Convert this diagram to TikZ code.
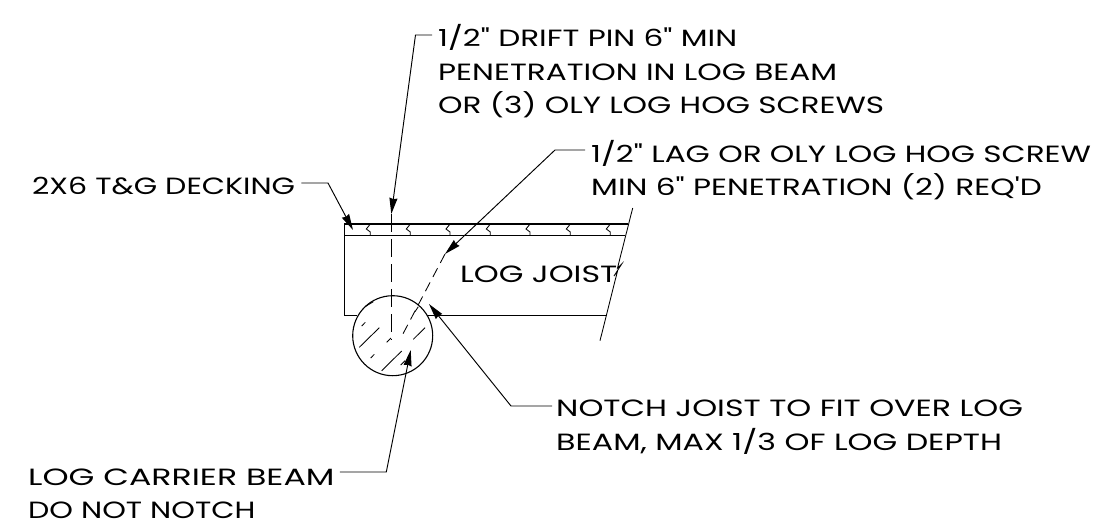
\documentclass[tikz,border=0pt]{standalone}
\usepackage{fontspec}
\setmainfont[FakeStretch=1.35]{Poppins}
\newfontfamily\notenarrow[FakeStretch=1.325]{Poppins}
\newfontfamily\noteshort[FakeStretch=1.28]{Poppins}
\newfontfamily\notewide[FakeStretch=1.414]{Poppins}
\usetikzlibrary{arrows.meta}
\tikzset{
    note/.style={anchor=north west,inner sep=0pt,align=left,font=#1\fontsize{23.5}{33.5}\selectfont},
    note/.default=\relax,
    leader/.style={-{Stealth[length=16pt,width=8pt,inset=1pt]},line width=0.95pt},
    part/.style={line width=1.1pt},
    hatch/.style={line width=0.85pt}
}
\begin{document}
\begin{tikzpicture}[x=1pt,y=-1pt]
            \useasboundingbox (0,0) rectangle (1109,531);
            \def\xdeck{344.7} \def\ytop{224} \def\ybot{235.3} \def\yjoist{315.7}
            % labels
            \node [note=\notenarrow] (drift) at (438,24.5) {1/2" DRIFT PIN 6" MIN\\PENETRATION IN LOG BEAM\\OR (3) OLY LOG HOG SCREWS};
            \node [note=\notenarrow] (lag) at (591,140) {1/2" LAG OR OLY LOG HOG SCREW\\MIN 6" PENETRATION (2) REQ'D};
            \node [note=\noteshort] (deck) at (32,177) {2X6 T\&G DECKING};
            \node [note] (joist) at (460,266) {LOG JOIST};
            \node [note] (notch) at (556,400) {NOTCH JOIST TO FIT OVER LOG\\BEAM, MAX 1/3 OF LOG DEPTH};
            \node [note=\notewide] (carrier) at (28,469) {LOG CARRIER BEAM};
            \node [note=\noteshort] (carriernote) at (28,502) {DO NOT NOTCH};
            % joist and decking
            \draw [part] (628,\ytop)--(\xdeck,\ytop)--(\xdeck,\yjoist)--(357,\yjoist);
            \draw [part] (\xdeck,\ybot)--(625,\ybot);
            \draw [part] (427,\yjoist)--(607,\yjoist);
            \foreach \x in {369.3,409.3,449,489.3,529,569.3,609.3}
                \draw [hatch] (\x+1,\ytop)--(\x-3,229)--(\x+1,232)--(\x+1,\ybot);
            \draw [hatch] (632.7,208)--(617.5,268)--(621.7,264)--(614,276)--(617.5,271)--(600,340.7);
            % carrier beam
            \node [circle,draw,line width=1.1pt,minimum size=80pt,inner sep=0pt] (beam) at (392.7,335.7) {};
            \draw [hatch] (359.3,347.3)--(379.3,327.7) (361.7,326)--(365.3,322.3) (365,306.7)--(373.3,301.7)
                (370.7,358)--(374.3,354.3) (381.7,370.7)--(401.7,351) (386.7,342.3)--(391,338)
                (413.3,339.3)--(425,327.7) (400.7,365)--(405,360.7) (415,311.7)--(418.3,306.7);
            % fasteners
            \draw [hatch,dash pattern=on 18pt off 7pt] (391.3,214)--(391.3,340);
            \draw [hatch,dash pattern=on 10pt off 6pt] (445,254)--(402,335.7);
            % leaders
            \coordinate (driftbend) at (415.5,35);
            \coordinate (driftend) at (391.3,214);
            \coordinate (lagbend) at (555,150);
            \coordinate (lagend) at (445,254);
            \coordinate (deckbend) at (328,183);
            \coordinate (deckend) at (353,230);
            \coordinate (notchbend) at (511,406);
            \coordinate (notchend) at (429,304);
            \coordinate (carrierbend) at (386.3,472);
            \coordinate (carrierend) at (410.7,350);
            \draw [leader] ([xshift=-6pt]driftbend -| drift.west)--(driftbend)--(driftend);
            \draw [leader] ([xshift=-6pt]lagbend -| lag.west)--(lagbend)--(lagend);
            \draw [leader] ([xshift=6pt]deckbend -| deck.east)--(deckbend)--(deckend);
            \draw [leader] ([xshift=-4pt]notchbend -| notch.west)--(notchbend)--(notchend);
            \draw [leader] ([xshift=5pt]carrierbend -| carrier.east)--(carrierbend)--(carrierend);
\end{tikzpicture}
\end{document}
